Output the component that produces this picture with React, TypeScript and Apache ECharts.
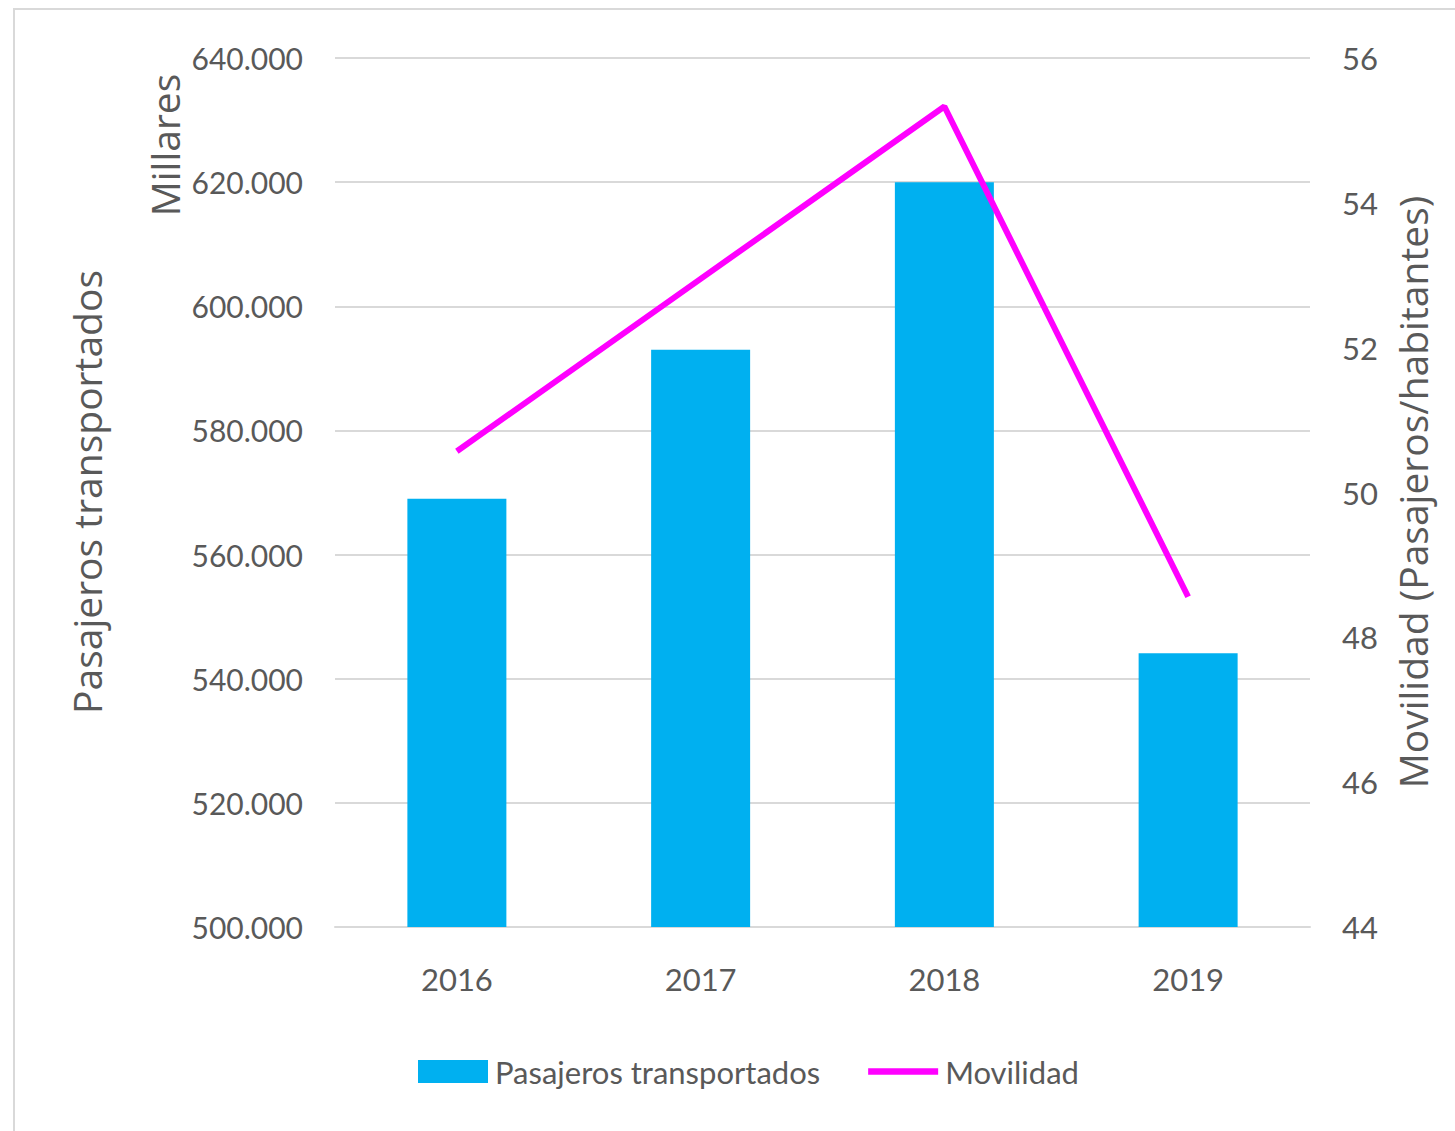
import React, { useEffect, useRef } from "react";
import * as echarts from "echarts";

const categories = ["2016", "2017", "2018", "2019"];
const pasajeros = [569000, 593000, 620000, 544100];
const movilidad = [50.57, 52.95, 55.33, 48.56];
const leftTicks = { min: 500000, max: 640000, interval: 20000 };
const rightTicks = { min: 44, max: 56, interval: 2 };

const NARROW = "Lato, 'Open Sans', sans-serif";
const TITLE = "'Open Sans', 'Noto Sans', sans-serif";
const GREY = "#595959";

function fmtThousands(v: number): string {
  const s = Math.round(v).toString();
  return s.replace(/\B(?=(\d{3})+(?!\d))/g, ".");
}

export default function App() {
  const ref = useRef<HTMLDivElement>(null);
  useEffect(() => {
    document.body.style.margin = "0";
    const chart = echarts.init(ref.current!, null, { renderer: "svg" });
    chart.setOption({
      animation: false,
      backgroundColor: "#ffffff",
      grid: { left: 335, right: 145, top: 58, bottom: 204, containLabel: false },
      legend: {
        left: 413,
        top: 1051,
        itemWidth: 70,
        itemHeight: 23,
        itemGap: 48,
        textStyle: { fontFamily: NARROW, fontSize: 31, color: GREY, padding: [0, 0, 0, 2] },
        data: [
          { name: "Pasajeros transportados", icon: "rect" },
          { name: "Movilidad", icon: "path://M0,0 L74,0 L74,7 L0,7 Z" },
        ],
      },
      xAxis: {
        type: "category",
        data: categories,
        axisLine: { show: true, lineStyle: { color: "#D9D9D9", width: 2 } },
        axisTick: { show: false },
        axisLabel: { fontFamily: NARROW, fontSize: 31, color: GREY, margin: 36 },
      },
      yAxis: [
        {
          type: "value",
          min: leftTicks.min,
          max: leftTicks.max,
          interval: leftTicks.interval,
          axisLine: { show: false },
          axisTick: { show: false },
          splitLine: { lineStyle: { color: "#D9D9D9", width: 2 } },
          axisLabel: {
            fontFamily: NARROW,
            fontSize: 30,
            color: GREY,
            margin: 32,
            formatter: (v: number) => fmtThousands(v),
          },
        },
        {
          type: "value",
          position: "right",
          min: rightTicks.min,
          max: rightTicks.max,
          interval: rightTicks.interval,
          axisLine: { show: false },
          axisTick: { show: false },
          splitLine: { show: false },
          axisLabel: { fontFamily: NARROW, fontSize: 31, color: GREY, margin: 32 },
        },
      ],
      series: [
        {
          name: "Pasajeros transportados",
          type: "bar",
          data: pasajeros,
          barWidth: 99,
          itemStyle: { color: "#00B0F0" },
          yAxisIndex: 0,
        },
        {
          name: "Movilidad",
          type: "line",
          data: movilidad,
          yAxisIndex: 1,
          symbol: "none",
          lineStyle: { color: "#FF00FF", width: 6 },
          itemStyle: { color: "#FF00FF" },
        },
      ],
      graphic: [
        {
          type: "rect",
          shape: { x: 14, y: 9, width: 1460, height: 1140 },
          style: { fill: "none", stroke: "#D9D9D9", lineWidth: 2 },
          silent: true,
        },
        {
          type: "text",
          x: 86,
          y: 492,
          rotation: Math.PI / 2,
          style: {
            text: "Pasajeros transportados",
            fontFamily: TITLE,
            fontSize: 39,
            fill: GREY,
            align: "center",
            verticalAlign: "middle",
          },
        },
        {
          type: "text",
          x: 164,
          y: 145,
          rotation: Math.PI / 2,
          style: {
            text: "Millares",
            fontFamily: TITLE,
            fontSize: 39,
            fill: GREY,
            align: "center",
            verticalAlign: "middle",
          },
        },
        {
          type: "text",
          x: 1412,
          y: 492,
          rotation: Math.PI / 2,
          style: {
            text: "Movilidad (Pasajeros/habitantes)",
            fontFamily: TITLE,
            fontSize: 39,
            fill: GREY,
            align: "center",
            verticalAlign: "middle",
          },
        },
      ],
    });
    return () => chart.dispose();
  }, []);
  return (
    <div
      ref={ref}
      style={{ position: "fixed", left: 0, top: 0, width: 1455, height: 1131 }}
    />
  );
}
